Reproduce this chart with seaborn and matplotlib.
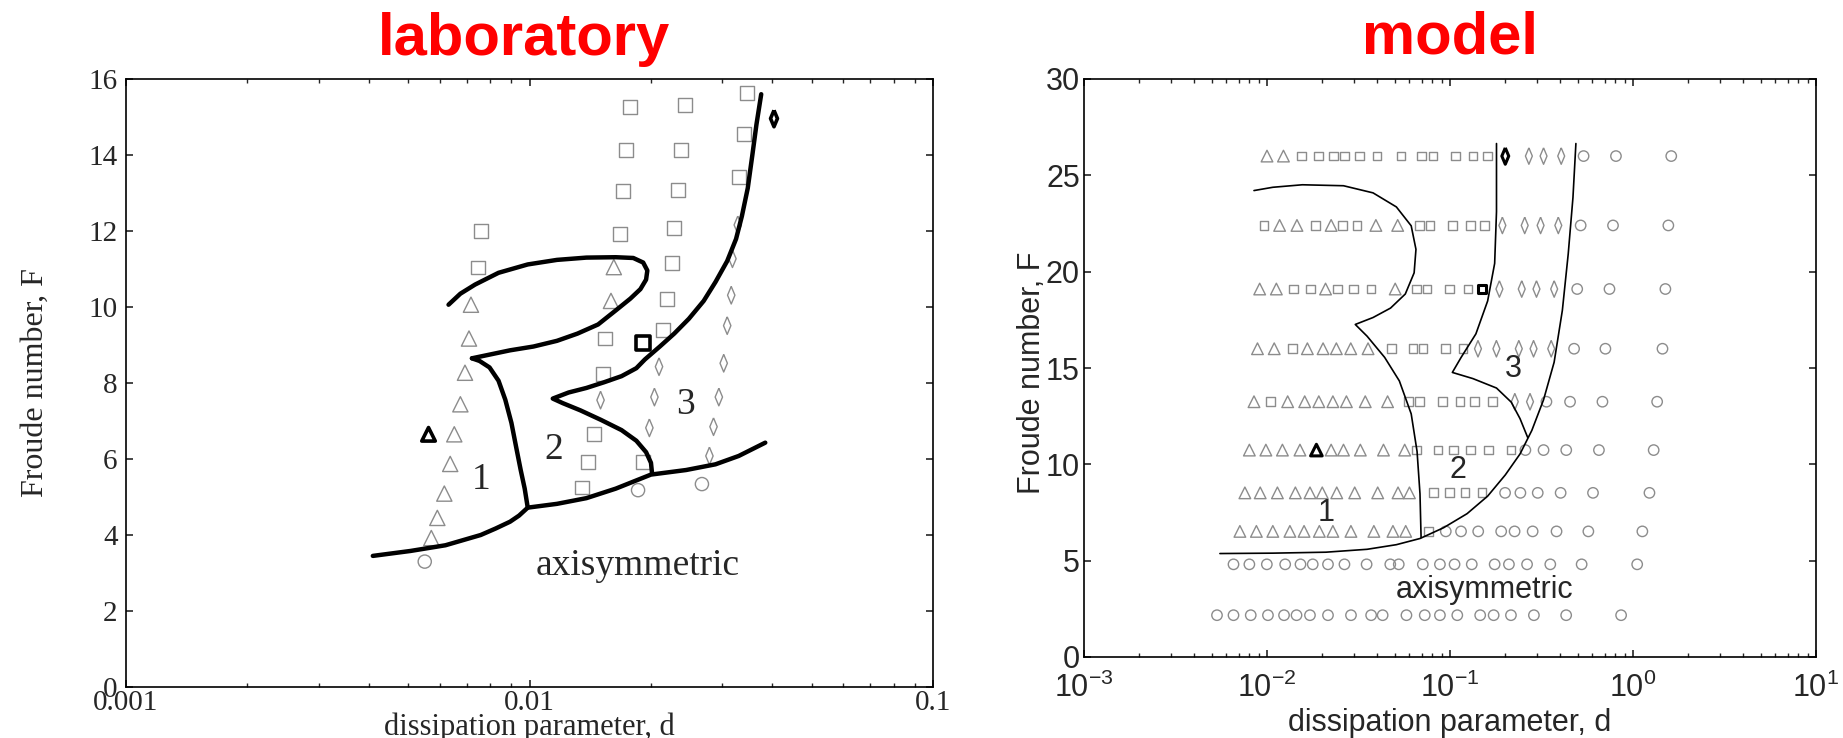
import matplotlib
matplotlib.use("Agg")
import matplotlib.pyplot as plt
from matplotlib.ticker import NullFormatter
import seaborn as sns
import pandas as pd

sns.set_style("ticks")
plt.rcParams['font.family'] = ['Liberation Sans', 'DejaVu Sans']
plt.rcParams['mathtext.fontset'] = 'custom'
plt.rcParams['mathtext.rm'] = 'Liberation Sans'
plt.rcParams['mathtext.it'] = 'Liberation Sans:italic'
plt.rcParams['mathtext.bf'] = 'Liberation Sans:bold'

# ---------------- laboratory panel data ----------------
lab_square_d = [0.01778, 0.02427, 0.03451, 0.01738, 0.02377, 0.03396, 0.01702, 0.02339,
                0.03304, 0.00757, 0.01675, 0.02285, 0.00745, 0.02254, 0.02196, 0.02139,
                0.01538, 0.01523, 0.01445, 0.01397, 0.01913, 0.01352]
lab_square_F = [15.27, 15.32, 15.62, 14.12, 14.14, 14.56, 13.05, 13.07,
                13.41, 12.00, 11.93, 12.08, 11.04, 11.16, 10.22, 9.39,
                9.17, 8.24, 6.66, 5.92, 5.92, 5.25]
lab_tri_d = [0.01618, 0.01592, 0.00716, 0.00708, 0.00692, 0.00674, 0.00651, 0.00636,
             0.00615, 0.00591, 0.00571]
lab_tri_F = [11.05, 10.16, 10.06, 9.17, 8.27, 7.44, 6.65, 5.87, 5.09, 4.45, 3.92]
lab_diamond_d = [0.03282, 0.03184, 0.03162, 0.03090, 0.03029, 0.02946, 0.02858, 0.02792,
                 0.02094, 0.02040, 0.01982, 0.01500]
lab_diamond_F = [12.16, 11.27, 10.31, 9.51, 8.52, 7.63, 6.85, 6.08, 8.43, 7.63, 6.82, 7.55]
lab_circle_d = [0.00550, 0.01858, 0.02675]
lab_circle_F = [3.30, 5.18, 5.34]
# highlighted (black) examples: triangle, square, diamond
lab_black_d = [0.00562, 0.01913, 0.04036]
lab_black_F = [6.65, 9.05, 14.96]

lab_base_d = [0.00409, 0.00507, 0.00619, 0.00757, 0.00824, 0.00895, 0.00942, 0.00990,
              0.0117, 0.01384, 0.01636, 0.0200, 0.02444, 0.0289, 0.0330, 0.0384]
lab_base_F = [3.45, 3.58, 3.73, 4.00, 4.17, 4.35, 4.51, 4.72,
              4.82, 4.97, 5.22, 5.59, 5.71, 5.86, 6.08, 6.43]
lab_b12_d = [0.00990, 0.00973, 0.00951, 0.00926, 0.00902, 0.00871, 0.00838, 0.00796,
             0.00752, 0.00720]
lab_b12_F = [4.72, 5.22, 5.71, 6.33, 6.95, 7.56, 8.06, 8.41, 8.58, 8.65]
lab_loop_d = [0.00720, 0.00895, 0.01023, 0.0117, 0.01315, 0.01479, 0.01636, 0.01778,
              0.01883, 0.01945, 0.01959, 0.01913, 0.01808, 0.01636, 0.01384, 0.0117,
              0.0099, 0.00838, 0.00733, 0.00674, 0.0063]
lab_loop_F = [8.65, 8.86, 8.96, 9.11, 9.30, 9.54, 9.91, 10.22,
              10.47, 10.72, 10.96, 11.17, 11.29, 11.31, 11.30, 11.24,
              11.12, 10.90, 10.59, 10.35, 10.06]
lab_b23_d = [0.02013, 0.02000, 0.01945, 0.01840, 0.01691, 0.01503, 0.01337, 0.01209,
             0.01142, 0.0125, 0.01384, 0.01531, 0.01691, 0.0184, 0.01932, 0.02104,
             0.02284, 0.02483, 0.02702, 0.02891, 0.0309, 0.0325, 0.0336, 0.03475,
             0.03566, 0.03651, 0.03752]
lab_b23_F = [5.61, 5.90, 6.18, 6.48, 6.76, 7.03, 7.28, 7.47,
             7.59, 7.75, 7.87, 8.02, 8.18, 8.39, 8.62, 8.96,
             9.30, 9.69, 10.16, 10.66, 11.21, 11.79, 12.39, 13.13,
             13.99, 14.80, 15.60]

# ---------------- model panel data ----------------
# t triangle, s square, d diamond, c circle; upper case = highlighted black
model_row_F = [26.0, 22.4, 19.1, 16.0, 13.25, 10.74, 8.52, 6.52, 4.81, 2.17]
model_row_kind = [
    "tt" + "s" * 12 + "D" + "ddd" + "ccc",
    "sttstsstt" + "sssss" + "dddd" + "ccc",
    "ttsstssstssss" + "S" + "dddd" + "ccc",
    "ttstttttsssss" + "ddddd" + "ccc",
    "tsttttttt" + "ssssss" + "dd" + "cccc",
    "ttttTttttt" + "ssssss" + "ccccc",
    "t" * 11 + "ssss" + "c" * 6,
    "t" * 11 + "s" + "c" * 9,
    "c" * 21,
    "c" * 21,
]
model_row_d = [
    [0.0100, 0.0123, 0.01538, 0.01905, 0.02309, 0.02656, 0.03196, 0.03991, 0.05404, 0.07011,
     0.08072, 0.1069, 0.1334, 0.1606, 0.2005, 0.2698, 0.3245, 0.4052, 0.537, 0.807, 1.618],
    [0.00964, 0.01172, 0.01458, 0.01836, 0.02241, 0.02582, 0.03105, 0.03936, 0.05178, 0.06808,
     0.0778, 0.1035, 0.1297, 0.1549, 0.1933, 0.256, 0.3126, 0.3907, 0.5176, 0.7776, 1.56],
    [0.00912, 0.01125, 0.01389, 0.01729, 0.02089, 0.02433, 0.02965, 0.03701, 0.05018, 0.06549,
     0.07482, 0.09954, 0.1253, 0.1496, 0.1862, 0.2466, 0.2969, 0.3709, 0.4955, 0.7438, 1.503],
    [0.00887, 0.01095, 0.01372, 0.01662, 0.02025, 0.02393, 0.02869, 0.03566, 0.04786, 0.06285,
     0.07125, 0.09472, 0.1178, 0.1422, 0.1793, 0.2377, 0.2861, 0.3573, 0.4765, 0.7066, 1.449],
    [0.00849, 0.01045, 0.01297, 0.01607, 0.01919, 0.02291, 0.02716, 0.03443, 0.0456, 0.05956,
     0.06808, 0.09078, 0.1134, 0.1365, 0.1706, 0.226, 0.2737, 0.3365, 0.4529, 0.6808, 1.355],
    [0.00801, 0.00986, 0.01214, 0.01514, 0.01862, 0.02241, 0.02618, 0.03236, 0.0433, 0.05655,
     0.06544, 0.0861, 0.1045, 0.1297, 0.1631, 0.2153, 0.2582, 0.3245, 0.4317, 0.6514, 1.297],
    [0.00757, 0.00918, 0.0114, 0.01429, 0.01717, 0.02004, 0.02405, 0.03015, 0.04027, 0.052,
     0.06003, 0.08128, 0.09954, 0.1207, 0.1497, 0.2, 0.2425, 0.3016, 0.4023, 0.6045, 1.23],
    [0.00711, 0.00875, 0.01076, 0.01334, 0.01594, 0.01932, 0.02291, 0.02875, 0.03837, 0.04877,
     0.05728, 0.07638, 0.09484, 0.1149, 0.1426, 0.1904, 0.2254, 0.2829, 0.3821, 0.5702, 1.125],
    [0.00656, 0.00801, 0.00998, 0.01257, 0.01524, 0.01778, 0.02154, 0.0265, 0.03502, 0.04717,
     0.05248, 0.07102, 0.0881, 0.1059, 0.1315, 0.1754, 0.2099, 0.2637, 0.3532, 0.524, 1.054],
    [0.00533, 0.00656, 0.00815, 0.01012, 0.01239, 0.0145, 0.01717, 0.02154, 0.02877, 0.03707,
     0.04285, 0.05781, 0.07278, 0.0881, 0.1096, 0.1462, 0.1732, 0.2153, 0.2874, 0.4313, 0.861],
]

mod_outer_d = [0.00553, 0.01076, 0.02099, 0.03524, 0.05093, 0.06855, 0.09226, 0.1240, 0.1606,
               0.2005, 0.2414, 0.2800, 0.3245, 0.3707, 0.4111, 0.4426, 0.4698, 0.4875]
mod_outer_F = [5.37, 5.39, 5.44, 5.59, 5.83, 6.15, 6.71, 7.44, 8.35, 9.45, 10.54, 11.76,
               13.35, 15.30, 17.99, 20.92, 23.85, 26.65]
mod_b12_d = [0.0695, 0.06855, 0.06607, 0.06137, 0.05287, 0.04395, 0.03524, 0.03036, 0.03797,
             0.04733, 0.05698, 0.06368, 0.06516, 0.06137, 0.05093, 0.03797, 0.02618, 0.01560,
             0.01076, 0.00849]
mod_b12_F = [6.20, 8.47, 10.67, 12.62, 14.33, 15.55, 16.65, 17.26, 17.62, 18.11, 18.84, 19.94,
             21.16, 22.38, 23.36, 24.09, 24.46, 24.51, 24.38, 24.21]
mod_b3_d = [0.1795, 0.1795, 0.1754, 0.1606, 0.1385, 0.1150, 0.1030, 0.1334, 0.1795, 0.2160,
            0.2414, 0.2656]
mod_b3_F = [26.65, 23.11, 20.43, 18.48, 16.77, 15.55, 14.77, 14.45, 13.96, 13.23, 12.37, 11.40]

GREY = '#8c8c8c'
thin_diamond = [(0, 1), (0.42, 0), (0, -1), (-0.42, 0), (0, 1)]

fig = plt.figure(figsize=(18.43, 7.38), dpi=100)
ax1 = fig.add_axes([126 / 1843, 51 / 738, 807 / 1843, 608 / 738])
ax2 = fig.add_axes([1084 / 1843, 81 / 738, 732 / 1843, 578 / 738])
for ax in (ax1, ax2):
    ax.set_xscale('log')


def open_marks(ax, d, F, marker, size, color=GREY, lw=1.0):
    sns.scatterplot(x=d, y=F, marker=marker, s=size, color=color, facecolor='none',
                    edgecolor=color, linewidth=lw, legend=False, ax=ax, zorder=3)


def curve(ax, d, F, lw):
    sns.lineplot(x=d, y=F, sort=False, estimator=None, color='k', lw=lw, ax=ax, zorder=4)


# ---- laboratory ----
open_marks(ax1, lab_square_d, lab_square_F, 's', 100)
open_marks(ax1, lab_tri_d, lab_tri_F, '^', 120)
open_marks(ax1, lab_diamond_d, lab_diamond_F, thin_diamond, 160)
open_marks(ax1, lab_circle_d, lab_circle_F, 'o', 90)
for d, F, m, s in zip(lab_black_d, lab_black_F, ['^', 's', thin_diamond], [95, 95, 140]):
    open_marks(ax1, [d], [F], m, s, color='k', lw=2.6)
for d, F in [(lab_base_d, lab_base_F), (lab_b12_d, lab_b12_F),
             (lab_loop_d, lab_loop_F), (lab_b23_d, lab_b23_F)]:
    curve(ax1, d, F, 3.2)

serif = 'Liberation Serif'
for txt, d, F in [('1', 0.00757, 5.46), ('2', 0.0115, 6.24), ('3', 0.0243, 7.44),
                  ('axisymmetric', 0.01858, 3.18)]:
    ax1.text(d, F, txt, ha='center', va='center', fontsize=27, family=serif, zorder=5)

ax1.set_xlim(0.001, 0.1)
ax1.set_ylim(0, 16)
ax1.set_xticks([0.001, 0.01, 0.1], labels=['0.001', '0.01', '0.1'])
ax1.set_yticks(range(0, 17, 2))
ax1.xaxis.set_minor_formatter(NullFormatter())
ax1.tick_params(which='major', direction='in', length=5, width=1.2, top=True, right=True,
                labelsize=21, pad=2)
ax1.tick_params(axis='y', pad=6)
ax1.tick_params(which='minor', direction='in', length=3, width=1.0, top=True, right=True)
for lbl in ax1.get_xticklabels() + ax1.get_yticklabels():
    lbl.set_fontfamily(serif)
ax1.set_xlabel('dissipation parameter, d', fontsize=22, family=serif)
ax1.set_ylabel('Froude number, F', fontsize=23, family=serif)
ax1.xaxis.set_label_coords(0.5, -0.042)
ax1.yaxis.set_label_coords(-0.094, 0.5)

# ---- model ----
rows = []
for F, kinds, ds in zip(model_row_F, model_row_kind, model_row_d):
    for k, d in zip(kinds, ds):
        rows.append({'d': d, 'F': F, 'kind': k})
model = pd.DataFrame(rows)

model_style = {'t': ('^', 70), 's': ('s', 40), 'd': (thin_diamond, 140), 'c': ('o', 56)}
for k, (m, s) in model_style.items():
    sub = model[model['kind'] == k]
    open_marks(ax2, sub['d'], sub['F'], m, s)
    sub = model[model['kind'] == k.upper()]
    if len(sub):
        open_marks(ax2, sub['d'], sub['F'], m, s, color='k', lw=2.2)

for d, F in [(mod_outer_d, mod_outer_F), (mod_b12_d, mod_b12_F), (mod_b3_d, mod_b3_F)]:
    curve(ax2, d, F, 1.2)

for txt, d, F in [('1', 0.0210, 7.49), ('2', 0.1109, 9.69), ('3', 0.2208, 14.94),
                  ('axisymmetric', 0.1549, 3.47)]:
    ax2.text(d, F, txt, ha='center', va='center', fontsize=22, zorder=5)

ax2.set_xlim(1e-3, 1e1)
ax2.set_ylim(0, 30)
ax2.set_xticks([1e-3, 1e-2, 1e-1, 1e0, 1e1],
               labels=[r'$10^{-3}$', r'$10^{-2}$', r'$10^{-1}$', r'$10^{0}$', r'$10^{1}$'])
ax2.set_yticks(range(0, 31, 5))
ax2.xaxis.set_minor_formatter(NullFormatter())
ax2.tick_params(which='major', direction='in', length=5, width=1.2, top=True, right=True,
                labelsize=22, pad=11)
ax2.tick_params(axis='y', pad=3)
ax2.tick_params(which='minor', direction='in', length=3, width=1.0, top=True, right=True)
ax2.set_xlabel('dissipation parameter, d', fontsize=22)
ax2.set_ylabel('Froude number, F', fontsize=22)
ax2.xaxis.set_label_coords(0.5, -0.088)
ax2.yaxis.set_label_coords(-0.05, 0.491)

for ax in (ax1, ax2):
    for sp in ax.spines.values():
        sp.set_color('k')
        sp.set_linewidth(1.2)

fig.text(524 / 1843, 1 - 55 / 738, 'laboratory', color='red', fontsize=43,
         fontweight='bold', ha='center', va='baseline')
fig.text(1450 / 1843, 1 - 54 / 738, 'model', color='red', fontsize=43,
         fontweight='bold', ha='center', va='baseline')

fig.savefig('out.png', dpi=100)
